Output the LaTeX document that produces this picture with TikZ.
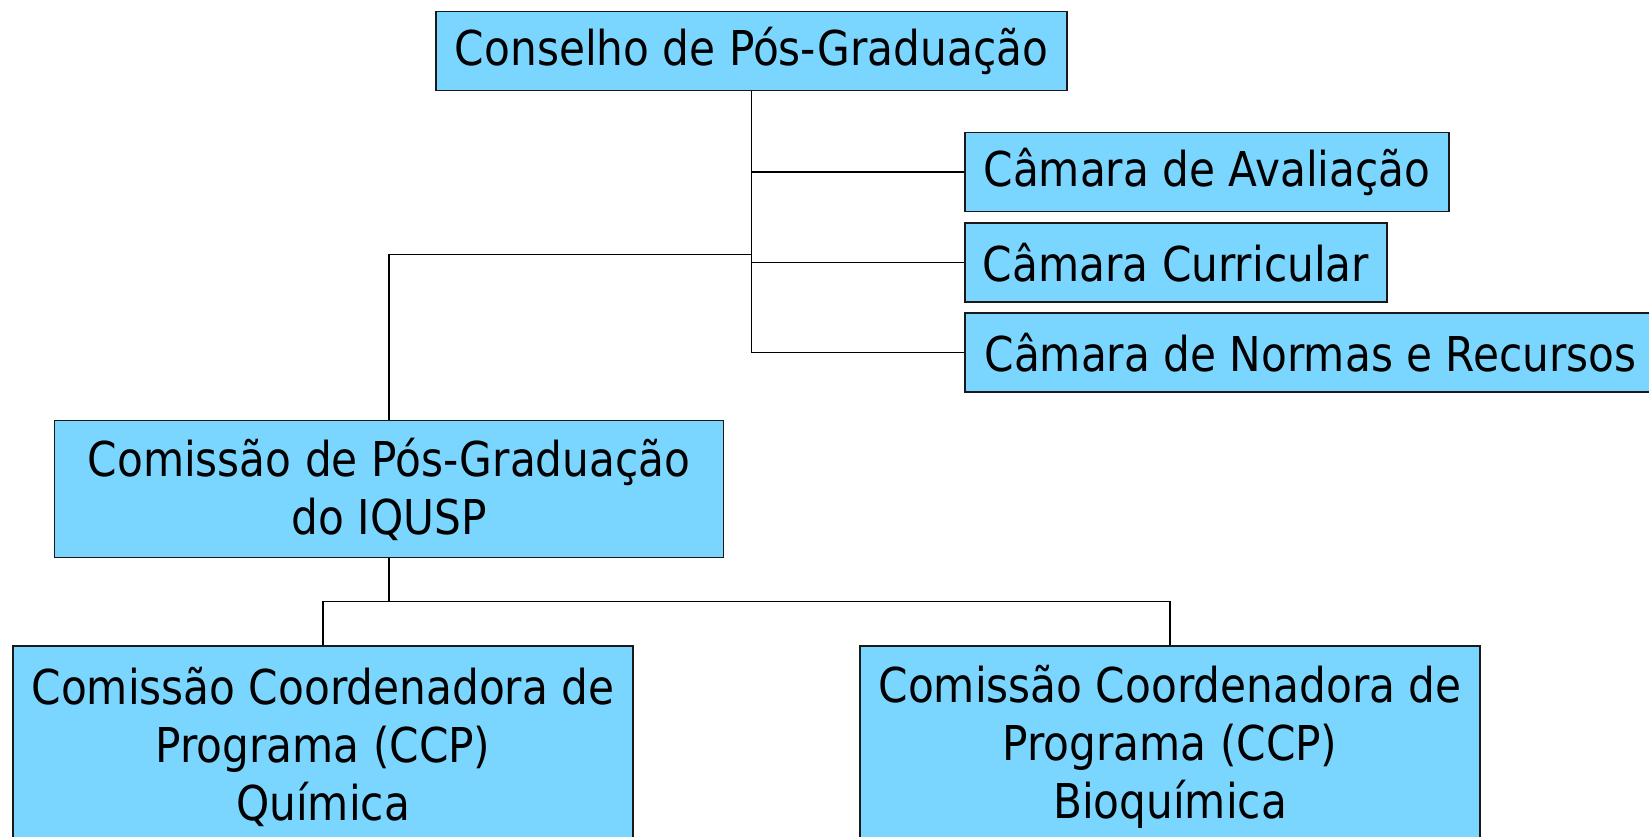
\documentclass[tikz,border=0pt]{standalone}
\usepackage{fontspec}
\setmainfont[FakeStretch=0.88]{DejaVu Sans}
\definecolor{boxfill}{RGB}{122,213,255}
\definecolor{boxline}{RGB}{25,25,25}
\tikzset{
  orgbox/.style={draw=boxline, line width=1.6pt, fill=boxfill, inner sep=0pt, align=center,
    font=\fontsize{48}{58}\selectfont},
  conn/.style={draw=black, line width=1.6pt}
}
\begin{document}
\begin{tikzpicture}[x=1pt,y=-1pt]
\useasboundingbox (0,0) rectangle (1649,837);
\clip (0,0) rectangle (1649,837);
\node[orgbox, minimum width=631pt, minimum height=79pt] (top) at (751.5,51) {Conselho de Pós-Graduação};
\node[orgbox, minimum width=484pt, minimum height=79pt] (aval) at (1207,172) {Câmara de Avaliação};
\node[orgbox, minimum width=422pt, minimum height=79pt] (curr) at (1176,262.5) {Câmara Curricular};
\node[orgbox, minimum width=691pt, minimum height=79pt] (norm) at (1310.5,352.5) {Câmara de Normas e Recursos};
\node[orgbox, minimum width=669pt, minimum height=137pt] (com) at (389,489) {Comissão de Pós-Graduação\\do IQUSP};
\node[orgbox, minimum width=620pt, minimum height=202pt] (qui) at (323,747) {Comissão Coordenadora de\\Programa (CCP)\\Química};
\node[orgbox, minimum width=620pt, minimum height=202pt] (bio) at (1170,747) {Comissão Coordenadora de\\Programa (CCP)\\Bioquímica};
\coordinate (br) at (751.5,254.5);
\coordinate (bj) at (389,601.6);
\draw[conn] (top.south) -- (top.south |- norm.west);
\draw[conn] (top.south |- aval.west) -- (aval.west);
\draw[conn] (top.south |- curr.west) -- (curr.west);
\draw[conn] (top.south |- norm.west) -- (norm.west);
\draw[conn] (br) -| (com.north);
\draw[conn] (com.south) -- (bj);
\draw[conn] (bj) -| (qui.north);
\draw[conn] (bj) -| (bio.north);
\end{tikzpicture}
\end{document}
